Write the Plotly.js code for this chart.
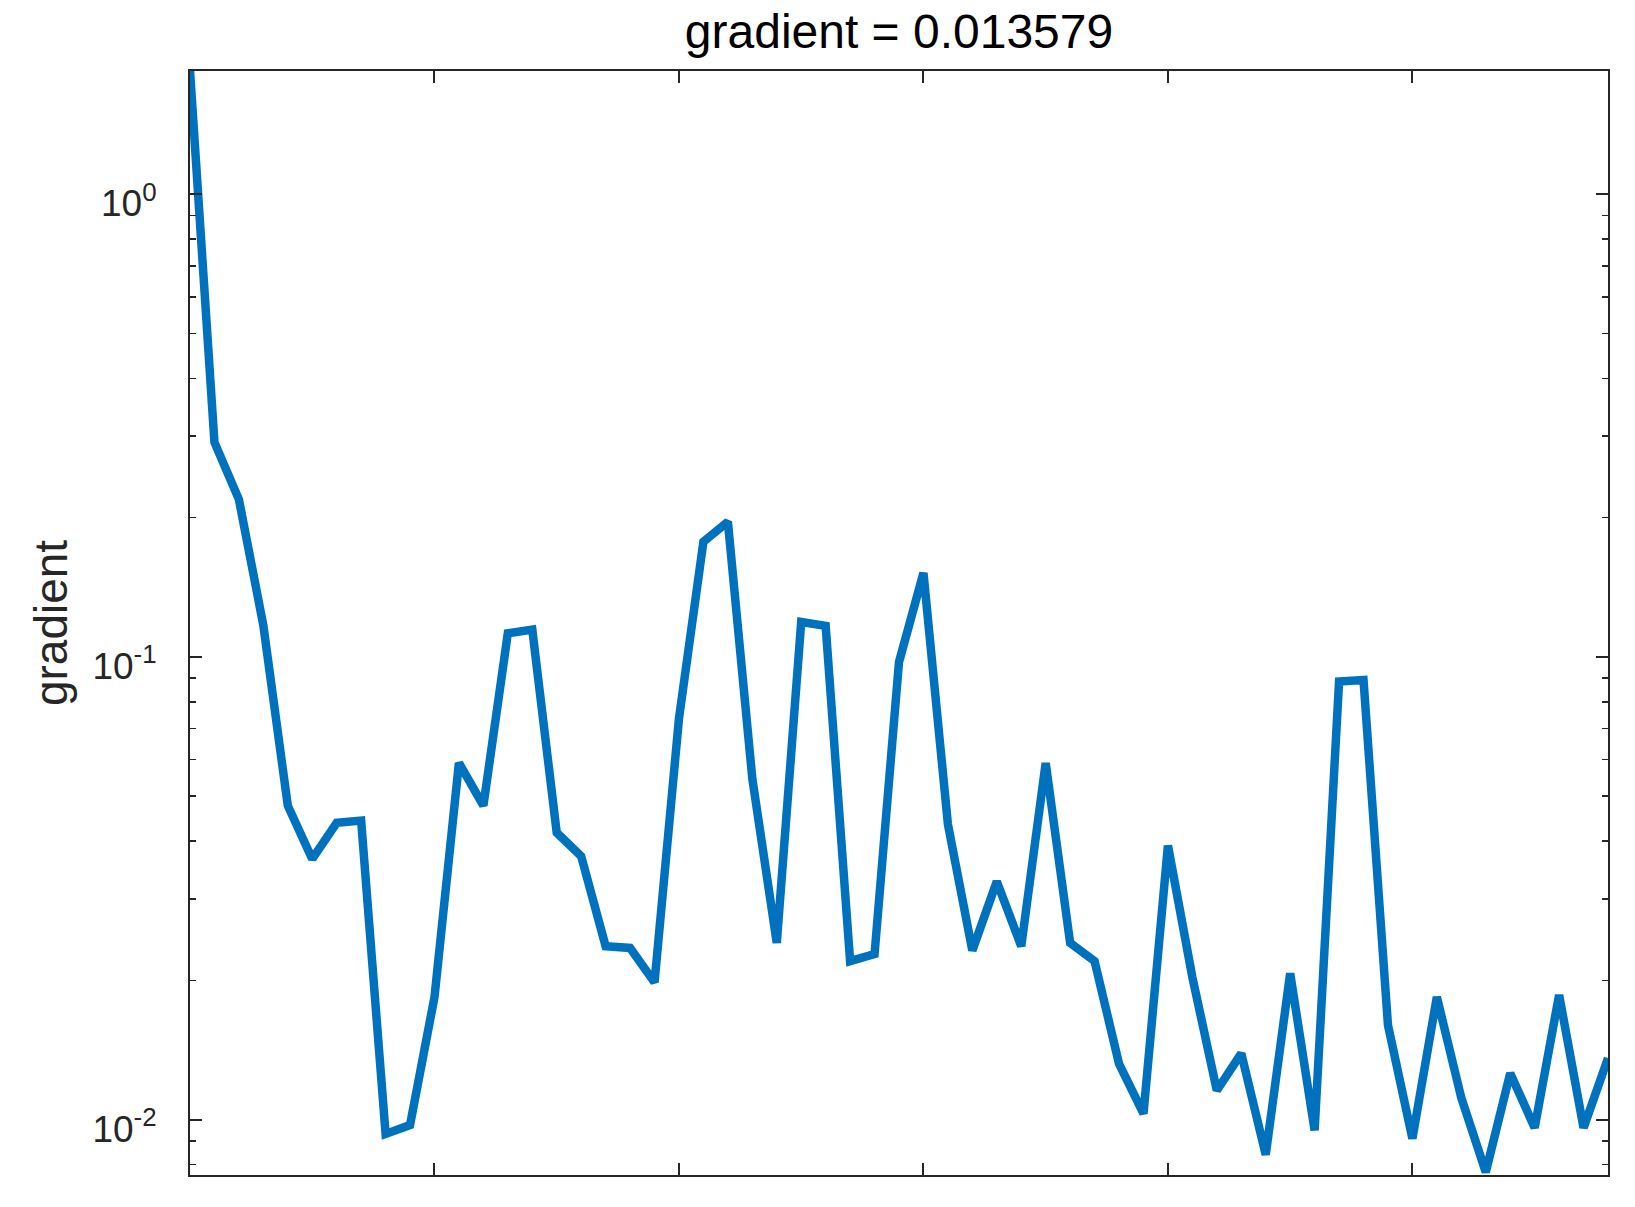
<!DOCTYPE html>
<html>
<head>
<meta charset="utf-8">
<script src="https://cdn.plot.ly/plotly-3.0.1.min.js"></script>
<style>html,body{margin:0;padding:0;background:#fff;}#chart{width:1635px;height:1207px;}</style>
</head>
<body>
<div id="chart"></div>
<script>
// iteration index and gradient values
const iterations = Array.from({length: 59}, (_, i) => i);
const gradientValues = [1.85, 0.291, 0.219, 0.117, 0.0477, 0.0366, 0.0438, 0.0443, 0.00931, 0.00973,
  0.0184, 0.059, 0.0477, 0.1125, 0.1146, 0.0417, 0.0371, 0.0237, 0.0235, 0.0198,
  0.0736, 0.1775, 0.196, 0.0546, 0.0241, 0.119, 0.1167, 0.0220, 0.0228, 0.0975,
  0.152, 0.0435, 0.0232, 0.0327, 0.0237, 0.059, 0.0241, 0.0220, 0.0132, 0.0103,
  0.0391, 0.0203, 0.01156, 0.0139, 0.0084, 0.0207, 0.00948, 0.0885, 0.0892, 0.016,
  0.0091, 0.0184, 0.01114, 0.0077, 0.0126, 0.0096, 0.0186, 0.0096, 0.013579];
const xTickVals = [10, 20, 30, 40, 50];
const yTickVals = [0.01, 0.1, 1];
const yTickText = ['10<sup>-2</sup>', '10<sup>-1</sup>', '10<sup>0</sup>'];
const titleText = 'gradient = 0.013579';
const yLabel = 'gradient';

const minorVals = [];
for (let d = -3; d <= 0; d++) for (let k = 2; k <= 9; k++) minorVals.push(k * Math.pow(10, d));

const axisColor = '#262626';
const font = 'Liberation Sans, Arial, Helvetica, sans-serif';

const trace = {
  x: iterations, y: gradientValues, type: 'scatter', mode: 'lines',
  line: {color: '#0072BD', width: 8.5}, hoverinfo: 'skip'
};

const layout = {
  width: 1635, height: 1207,
  margin: {l: 190, r: 27, t: 71, b: 32},
  paper_bgcolor: '#fff', plot_bgcolor: '#fff',
  showlegend: false,
  title: {text: titleText, font: {family: font, size: 48, color: '#000'},
          x: 0.5, xref: 'paper', xanchor: 'center', y: 1 - 14/1207, yref: 'container', yanchor: 'top'},
  xaxis: {
    range: [0, 58], showgrid: false, zeroline: false,
    showline: true, linecolor: axisColor, linewidth: 2, mirror: 'allticks',
    ticks: 'inside', ticklen: 12, tickwidth: 2, tickcolor: axisColor,
    tickmode: 'array', tickvals: xTickVals, showticklabels: false
  },
  yaxis: {
    type: 'log', range: [Math.log10(0.00759), Math.log10(1.847)],
    showgrid: false, zeroline: false,
    showline: true, linecolor: axisColor, linewidth: 2, mirror: 'allticks',
    ticks: 'inside', ticklen: 12, tickwidth: 2, tickcolor: axisColor,
    tickmode: 'array', tickvals: yTickVals, ticktext: yTickText,
    tickfont: {family: font, size: 37, color: axisColor},
    ticklabelstandoff: 24, ticklabelshift: 9,
    minor: {tickmode: 'array', tickvals: minorVals, ticks: 'inside', ticklen: 6, tickwidth: 1.5, tickcolor: axisColor, showgrid: false},
    title: {text: yLabel, font: {family: font, size: 46, color: axisColor}, standoff: 10}
  }
};

Plotly.newPlot('chart', [trace], layout, {staticPlot: true, displayModeBar: false});
</script>
</body>
</html>
